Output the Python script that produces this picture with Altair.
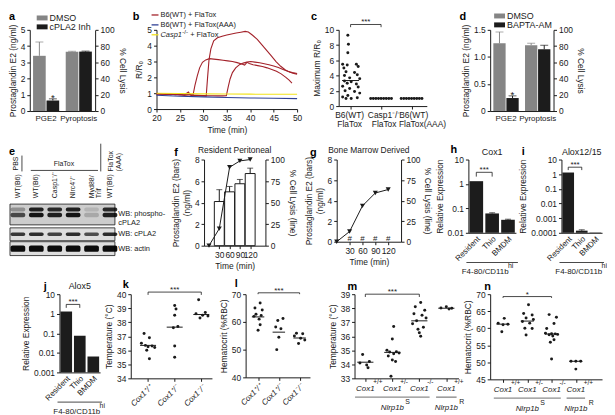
import altair as alt
import pandas as pd

FONT = "Liberation Sans"
INK = "#1a1a1a"
FS = 8.5

# ---------------- data ----------------
# a
a_groups = ["PGE2", "Pyroptosis"]
a_trts = ["DMSO", "cPLA2 Inh"]
a_pge = [3.4, 0.65]
a_pge_err = [0.85, 0.1]
a_lysis = [73.0, 73.2]
a_lysis_err = [0.6, 0.6]
a_sig = ["", "*"]
# d
d_trts = ["DMSO", "BAPTA-AM"]
d_pge = [1.25, 0.24]
d_pge_err = [0.21, 0.04]
d_lysis = [81.0, 76.0]
d_lysis_err = [2.5, 5.0]
d_sig = ["", "*"]
bar_colors = ["#858585", "#1c1c1c"]

# b
b_conds = ["B6(WT) + FlaTox", "B6(WT) + FlaTox(AAA)", "Casp1-/- + FlaTox"]
b_colors = ["#a3222a", "#2e3f95", "#f2e21b"]
b_red1_t = [20, 21, 22, 23, 24, 25, 26, 26.8, 27.4, 27.8, 28.2, 28.7, 29.2, 29.8, 30.5, 31.3, 32.2, 33.2,
            34.2, 35.2, 36.2, 37.2, 38.2, 38.8, 39.3, 39.8, 40.6, 41.6, 42.6, 43.6, 44.6, 45.6, 46.6, 47.6,
            48.3, 48.9]
b_red1_v = [0.97, 0.93, 0.96, 0.91, 0.93, 0.89, 0.9, 1.08, 0.84, 0.9, 1.5, 2.1, 2.6, 2.95, 3.1, 3.18, 3.15,
            3.12, 3.08, 3.04, 3.0, 2.93, 2.84, 2.78, 2.95, 2.88, 2.8, 2.74, 2.68, 2.6, 2.5, 2.38, 2.22, 2.0,
            1.82, 1.64]
b_red2_t = [20, 21, 22, 23, 24, 25, 26, 27, 28, 29, 30, 30.6, 30.9, 31.2, 31.6, 32.2, 33, 34, 35, 36, 37, 38,
            38.9, 39.6, 40.5, 41.5, 42.5, 43.5, 44.5, 45.5, 46.5, 47.5, 48.5, 49.3, 50]
b_red2_v = [0.99, 0.95, 0.93, 0.96, 0.9, 0.93, 0.88, 0.9, 0.86, 0.85, 0.83, 0.82, 2.0, 3.1, 3.8, 4.3, 4.5, 4.6,
            4.67, 4.74, 4.8, 4.85, 4.9, 4.86, 4.66, 4.4, 4.05, 3.7, 3.35, 3.0, 2.7, 2.47, 2.32, 2.25, 2.2]
b_red3_t = [20, 21, 22, 23, 24, 25, 26, 27, 28, 29, 30, 31, 32, 33, 34, 34.9, 35.3, 35.7, 36.2, 36.9, 37.7,
            38.5, 39.3, 40.1, 41, 42, 43, 44, 45, 46, 47, 48, 49, 50]
b_red3_v = [0.94, 0.96, 0.92, 0.94, 0.9, 0.91, 0.88, 0.93, 0.87, 0.86, 0.85, 0.84, 0.84, 0.83, 0.83, 0.84, 1.4,
            1.9, 2.3, 2.6, 2.8, 2.9, 2.96, 3.0, 2.96, 2.92, 2.86, 2.8, 2.72, 2.62, 2.5, 2.38, 2.3, 2.24]
b_blue_t = [20, 25, 30, 35, 40, 45, 50]
b_blue_v = [0.87, 0.81, 0.77, 0.73, 0.7, 0.68, 0.66]
b_yel_t = [20, 25, 30, 35, 40, 45, 50]
b_yel_v = [1.0, 0.98, 0.96, 0.95, 0.94, 0.93, 0.93]

# c
c_lab_x = [0.97, 0.97, 2.1, 2.1, 3.07, 3.36]
c_lab_line = [0, 1, 0, 1, 0, 1]
c_lab_text = ["B6(WT)", "FlaTox", "Casp1⁻/⁻", "FlaTox", "B6(WT)", "FlaTox(AAA)"]
c_v1 = [9.3, 8.1, 7.0, 5.5, 5.5, 5.4, 5.2, 5.0, 4.5, 4.4, 4.1, 4.0, 3.7, 3.6, 3.3, 3.2, 3.0, 2.9, 2.6, 2.5,
        2.3, 2.0, 1.9, 1.7, 1.4, 1.2, 1.1, 1.0, 1.0]
c_o1 = [-0.09, -0.07, -0.09, -0.26, 0.19, -0.11, 0.25, -0.22, -0.15, 0.13, 0.22, -0.2, -0.03, 0.3, -0.2,
        0.02, -0.11, 0.19, -0.26, 0.25, -0.03, -0.18, 0.13, 0.3, -0.09, -0.26, 0.22, 0.02, -0.15]
c_v2 = [1.0] * 9
c_o2 = [-0.34, -0.255, -0.17, -0.085, 0.0, 0.085, 0.17, 0.255, 0.34]
c_v3 = [1.0] * 9
c_o3 = [-0.34, -0.255, -0.17, -0.085, 0.0, 0.085, 0.17, 0.255, 0.34]
c_med = [3.35, 1.0, 1.0]

# e (western blot band intensities per lane)
e_lane_labels = [["WT(B6)"], ["WT(B6)"], ["Casp1⁻/⁻"], ["Nlrc4⁻/⁻"], ["Myd88/", "Trif"], ["WT(B6)"]]
e_phos_up = [0.3, 0.85, 0.8, 0.85, 0.12, 0.8]
e_phos_lo = [0.65, 0.9, 0.85, 0.9, 0.18, 0.85]
e_cpla2 = [0.75, 0.8, 0.7, 0.8, 0.65, 0.8]
e_actin = [0.95, 0.95, 0.95, 0.95, 0.95, 0.95]

# f, g
fg_times = [30, 60, 90, 120]
f_pge = [4.1, 5.0, 5.75, 6.7]
f_pge_err = [1.1, 0.5, 0.4, 0.5]
f_lys_t = [0, 30, 60, 90, 120]
f_lys = [0, 19.8, 91.0, 98.4, 100.0]
g_pge = [0, 0, 0, 0]
g_lys = [0, 12.4, 43.6, 59.3, 63.5]

# h, i, j
cells = ["Resident", "Thio", "BMDM"]
h_vals = [1.3, 0.062, 0.034]
h_errs = [0, 0.004, 0.002]
i_vals = [1.3, 0.00014, 0.000105]
i_errs = [0, 0.00002, 0]
j_vals = [1.3, 0.075, 0.0065]
j_errs = [0, 0, 0]

# k, l
cox3 = "['Cox1⁺/⁺','Cox1⁺/⁻','Cox1⁻/⁻'][datum.value-1]"
k_vals = [[37.2, 36.9, 36.5, 36.35, 36.3, 36.25, 36.2, 36.0, 35.4],
          [39.2, 38.95, 38.5, 37.7, 37.6, 36.3, 35.5],
          [39.6, 38.7, 38.6, 38.5, 38.45, 38.3]]
k_offs = [[-0.15, 0.05, -0.25, -0.1, 0.15, 0.0, 0.25, -0.05, 0.05],
          [0.0, 0.05, 0.0, 0.12, -0.05, 0.0, 0.0],
          [-0.1, 0.15, -0.2, 0.05, 0.25, -0.05]]
k_med = [36.35, 37.65, 38.55]
l_vals = [[66.8, 65.0, 64.3, 62.8, 62.3, 62.0, 61.0, 59.0, 57.0],
          [61.2, 60.5, 58.2, 57.5, 54.5, 50.0],
          [55.9, 55.7, 54.9, 54.1, 53.5, 52.2]]
l_offs = [[0.1, -0.15, 0.2, -0.1, 0.15, -0.2, 0.05, 0.1, 0.0],
          [0.2, -0.05, -0.15, 0.1, 0.0, -0.1],
          [-0.15, 0.15, -0.25, 0.05, 0.25, -0.05]]
l_med = [61.8, 56.3, 54.2]

# m, n
mn_sups = ["+/+", "+/-", "-/-", "+/+"]
m_vals = [[34.7, 34.2, 34.1, 33.95, 33.75],
          [36.7, 35.8, 35.0, 34.9, 34.88, 34.8, 34.75, 34.6, 34.3, 34.2, 33.15],
          [38.4, 38.1, 37.85, 37.6, 37.5, 37.3, 37.1, 36.9, 36.65, 36.5, 36.25, 36.0],
          [38.1, 38.02, 38.0, 37.95]]
m_offs = [[-0.1, 0.15, -0.2, 0.05, 0.1],
          [0.05, 0.0, -0.2, 0.15, -0.1, 0.25, 0.05, -0.15, 0.0, 0.12, -0.05],
          [0.05, -0.15, 0.2, -0.2, 0.1, 0.25, -0.1, -0.25, 0.15, -0.05, 0.0, 0.05],
          [0.0, -0.2, 0.2, 0.1]]
m_med = [34.15, 34.85, 37.1, 38.0]
n_vals = [[62.9, 61.5, 61.2, 61.0, 59.0],
          [66.9, 64.3, 63.9, 63.0, 62.6, 62.0, 61.5, 60.0, 59.9, 58.0],
          [64.0, 63.2, 61.4, 59.9, 58.5, 58.4, 58.35, 58.2, 58.1, 57.7, 56.6, 55.9, 51.0],
          [50.3, 50.3, 50.3, 48.0]]
n_offs = [[0.05, -0.2, 0.2, 0.0, -0.05],
          [0.05, -0.15, 0.2, -0.05, 0.25, -0.2, 0.1, -0.1, 0.2, -0.05],
          [-0.1, 0.2, 0.1, -0.2, -0.25, 0.0, 0.15, 0.25, -0.1, 0.05, 0.1, -0.05, 0.0],
          [-0.2, 0.0, 0.2, 0.0]]
n_med = [61.2, 62.1, 58.3, 50.3]


# ---------------- helpers ----------------
def one(**kw):
    return pd.DataFrame({k: [v] for k, v in kw.items()})


def letter(ch, dx, dy):
    return alt.Chart(one(t=ch)).mark_text(
        font=FONT, fontSize=11, fontWeight="bold", align="left", baseline="top", color="black"
    ).encode(text="t:N", x=alt.value(dx), y=alt.value(dy))


def label(txt, dx, dy, size=FS, align="center", baseline="bottom", style="normal"):
    return alt.Chart(one(t=txt)).mark_text(
        font=FONT, fontSize=size, align=align, baseline=baseline, fontStyle=style, color=INK
    ).encode(text="t:N", x=alt.value(dx), y=alt.value(dy))


def rect_legend(names, colors, x0, ys, size=9):
    out = []
    for n, c, y in zip(names, colors, ys):
        out.append(alt.Chart(one(t=n)).mark_rect(color=c).encode(
            x=alt.value(x0), x2=alt.value(x0 + 11), y=alt.value(y - 2.5), y2=alt.value(y + 2.5)))
        out.append(label(n, x0 + 13, y, size=size, align="left", baseline="middle"))
    return out


def spacer(w, top=None, bottom=None):
    df = one(v=0)
    mk = dict(size=1, color="white", opacity=1)
    ls = [alt.Chart(df).mark_square(**mk).encode(x=alt.value(0), y=alt.value(0))]
    if top is not None:
        ls.append(alt.Chart(df).mark_square(**mk).encode(x=alt.value(0), y=alt.value(-top)))
        ls.append(alt.Chart(df).mark_square(**mk).encode(x=alt.value(0), y=alt.value(bottom)))
    return alt.layer(*ls).properties(width=w, height=1)


# ---------------- panels ----------------
def dual_bar_panel(key, trts, pge, pge_err, sig, lys, lys_err, ymax, yvals, ylab_expr, W, H, legx, legys,
                   let_ch, letxy):
    tf = "trt_" + key
    dl = pd.DataFrame({"grp": ["PGE2"] * 2, tf: trts, "val": pge,
                       "top": [v + e for v, e in zip(pge, pge_err)], "sig": sig})
    dr = pd.DataFrame({"grp": ["Pyroptosis"] * 2, tf: trts, "val": lys,
                       "top": [v + e for v, e in zip(lys, lys_err)]})
    x = alt.X("grp:N", scale=alt.Scale(domain=a_groups, paddingInner=0.2, paddingOuter=0.1),
              axis=alt.Axis(title=None, labelAngle=0, ticks=False, labelPadding=4, labelFontSize=8))
    xo = alt.XOffset(tf + ":N", scale=alt.Scale(domain=trts, paddingInner=0.06))
    col = alt.Color(tf + ":N", scale=alt.Scale(domain=trts, range=bar_colors), legend=None)
    lkw = dict(title="Prostaglandin E2 (ng/ml)", values=yvals, orient="left")
    if ylab_expr:
        lkw["labelExpr"] = ylab_expr
    lax = alt.Axis(**lkw)
    ls = alt.Scale(domain=[0, ymax], nice=False)
    rax = alt.Axis(title="% Cell Lysis", values=[0, 20, 40, 60, 80, 100], orient="right")
    rs = alt.Scale(domain=[0, 100], nice=False)

    def parts(df, scale, axis):
        base = alt.Chart(df)
        yv = alt.Y("val:Q", scale=scale, axis=axis)
        yt = alt.Y("top:Q", scale=scale, axis=axis)
        bars = base.mark_bar().encode(x=x, xOffset=xo, color=col, y=yv)
        err = base.mark_rule(strokeWidth=1).encode(x=x, xOffset=xo, color=col, y=yv, y2="top:Q")
        cap = base.mark_tick(size=8, thickness=1).encode(x=x, xOffset=xo, color=col, y=yt)
        return [bars, err, cap]

    star = alt.Chart(dl).mark_text(font=FONT, fontSize=10, baseline="bottom", dy=4, color=INK).encode(
        x=x, xOffset=xo, y=alt.Y("top:Q", scale=ls, axis=lax), text="sig:N")
    left = alt.layer(*parts(dl, ls, lax), star)
    right = alt.layer(*parts(dr, rs, rax))
    extras = rect_legend(trts, bar_colors, legx, legys) + [letter(let_ch, *letxy)]
    return alt.layer(left, right, *extras).resolve_scale(y="independent").properties(width=W, height=H)


def panel_b():
    rows = []
    traces = [("r1", b_conds[0], b_red1_t, b_red1_v), ("r2", b_conds[0], b_red2_t, b_red2_v),
              ("r3", b_conds[0], b_red3_t, b_red3_v), ("bl", b_conds[1], b_blue_t, b_blue_v),
              ("ye", b_conds[2], b_yel_t, b_yel_v)]
    for tid, cond, ts, vs in traces:
        for i, (t, v) in enumerate(zip(ts, vs)):
            rows.append({"trace": tid, "cond_b": cond, "t": t, "v": v, "i": i})
    df = pd.DataFrame(rows)
    line = alt.Chart(df).mark_line(strokeWidth=1.1).encode(
        x=alt.X("t:Q", scale=alt.Scale(domain=[20, 50], nice=False, zero=False),
                axis=alt.Axis(values=[20, 25, 30, 35, 40, 45, 50], title="Time (min)")),
        y=alt.Y("v:Q", scale=alt.Scale(domain=[0, 5], nice=False),
                axis=alt.Axis(values=[0, 1, 2, 3, 4, 5], title="R/R₀")),
        color=alt.Color("cond_b:N", scale=alt.Scale(domain=b_conds, range=b_colors), legend=None),
        detail="trace:N", order="i:Q")
    leg = []
    ys = [-15, -5, 5]
    for c, y in zip(b_colors, ys):
        leg.append(alt.Chart(one(v=0)).mark_rule(color=c, strokeWidth=1.3).encode(
            x=alt.value(-5), x2=alt.value(2), y=alt.value(y)))
    leg.append(label("B6(WT) + FlaTox", 4, ys[0], size=7.5, align="left", baseline="middle"))
    leg.append(label("B6(WT) + FlaTox(AAA)", 4, ys[1], size=7.5, align="left", baseline="middle"))
    leg.append(label("Casp1", 4, ys[2], size=7.5, align="left", baseline="middle", style="italic"))
    leg.append(label("-/-", 26, ys[2] - 3, size=6, align="left", baseline="middle"))
    leg.append(label("+ FlaTox", 34, ys[2], size=7.5, align="left", baseline="middle"))
    return alt.layer(line, *leg, letter("b", -24, -19)).properties(width=142, height=80)


def strip_panel(vals_list, offs_list, medians, xdom, ydom, yvals, ytitle, W, H, half, brk, xaxis,
                let_ch, letxy, group_labels=False, cat_labels=None):
    rows = []
    for ci, (vals, offs) in enumerate(zip(vals_list, offs_list)):
        for v, o in zip(vals, offs):
            rows.append({"x": ci + 1 + o, "y": v})
    df = pd.DataFrame(rows)
    cats = list(range(1, len(vals_list) + 1))
    dm = pd.DataFrame({"x1": [c - half for c in cats], "x2": [c + half for c in cats], "y": medians})
    xs = alt.Scale(domain=xdom, nice=False, zero=False)
    ys = alt.Scale(domain=ydom, nice=False, zero=False)
    yax = alt.Axis(values=yvals, title=ytitle)

    def X(f):
        return alt.X(f + ":Q", scale=xs, axis=xaxis)

    def Y(f):
        return alt.Y(f + ":Q", scale=ys, axis=yax)

    pts = alt.Chart(df).mark_circle(size=9, color=INK, opacity=1).encode(x=X("x"), y=Y("y"))
    med = alt.Chart(dm).mark_rule(color=INK, strokeWidth=1).encode(x=X("x1"), x2="x2:Q", y=Y("y"))
    c1, c2, top, low, txt = brk
    db = pd.DataFrame({"x": [c1, c1, c2, c2], "y": [low, top, top, low], "i": [0, 1, 2, 3]})
    br = alt.Chart(db).mark_line(color=INK, strokeWidth=0.8).encode(x=X("x"), y=Y("y"), order="i:Q")
    st = alt.Chart(one(x=(c1 + c2) / 2, y=top, t=txt)).mark_text(
        font=FONT, fontSize=8, baseline="bottom", dy=2, color=INK).encode(x=X("x"), y=Y("y"), text="t:N")
    layers = [pts, med, br, st, letter(let_ch, *letxy)]
    if cat_labels:
        lx, ll, lt = cat_labels
        dc = pd.DataFrame({"x": lx, "t": lt, "yy": [H + 5 + 9 * v for v in ll]})
        layers.append(alt.Chart(dc).mark_text(font=FONT, fontSize=FS, baseline="top", color=INK).encode(
            x=X("x"), y=alt.Y("yy:Q", scale=None), text="t:N"))
    if group_labels:
        dc = pd.DataFrame({"x": cats, "s": mn_sups})
        layers.append(alt.Chart(dc).mark_text(font=FONT, fontSize=8, fontStyle="italic", baseline="top",
                                              color=INK).encode(x=X("x"), y=alt.value(H + 7), text=alt.value("Cox1")))
        layers.append(alt.Chart(dc).mark_text(font=FONT, fontSize=6.5, align="left", baseline="top", dx=8,
                                              color=INK).encode(x=X("x"), y=alt.value(H + 0.5), text="s:N"))
        dg = pd.DataFrame({"x1": [0.62, 3.62], "x2": [3.38, 4.38], "xc": [2.0, 4.0], "s": ["S", "R"]})
        layers.append(alt.Chart(dg).mark_rule(color="#8c8c8c", strokeWidth=1.4).encode(
            x=X("x1"), x2="x2:Q", y=alt.value(H + 19)))
        layers.append(alt.Chart(dg).mark_text(font=FONT, fontSize=8, fontStyle="italic", baseline="top",
                                              color=INK).encode(x=X("xc"), y=alt.value(H + 26), text=alt.value("Nlrp1b")))
        layers.append(alt.Chart(dg).mark_text(font=FONT, fontSize=7, align="left", baseline="top", dx=13,
                                              color=INK).encode(x=X("xc"), y=alt.value(H + 20), text="s:N"))
    return alt.layer(*layers).properties(width=W, height=H)


def panel_e():
    W, H = 106, 96
    EF = 7
    xs = alt.Scale(domain=[0.57, 6.27], nice=False, zero=False)
    ys = alt.Scale(domain=[0, 96], nice=False, zero=False, reverse=True)

    def X(f):
        return alt.X(f + ":Q", scale=xs, axis=None)

    def Y(f):
        return alt.Y(f + ":Q", scale=ys, axis=None)

    boxes = pd.DataFrame({"y1": [45, 69, 83], "y2": [66, 82, 97], "f": ["#cdcdcd", "#dedede", "#dedede"]})
    box = alt.Chart(boxes).mark_rect(stroke=INK, strokeWidth=0.8).encode(
        x=alt.value(0), x2=alt.value(W), y=Y("y1"), y2="y2:Q",
        fill=alt.Fill("f:N", scale=None))
    rows = []
    for li in range(6):
        lane = li + 1
        for yc, th, it in [(50.5, 4.0, e_phos_up[li]), (56.0, 4.5, e_phos_lo[li]),
                           (75.5, 3.5, e_cpla2[li]), (90.0, 6.5, e_actin[li])]:
            rows.append({"x1": lane - 0.4, "x2": lane + 0.4, "y1": yc - th / 2, "y2": yc + th / 2, "o": it})
    bands = alt.Chart(pd.DataFrame(rows)).mark_rect(color="black", cornerRadius=2).encode(
        x=X("x1"), x2="x2:Q", y=Y("y1"), y2="y2:Q", opacity=alt.Opacity("o:Q", scale=None))
    dl = pd.DataFrame({"x": [1, 2, 3, 4, 5, 6], "y": [39] * 6, "t": e_lane_labels})
    lanes = alt.Chart(dl).mark_text(font=FONT, fontSize=EF, angle=270, align="left", baseline="middle",
                                    lineHeight=8, color=INK).encode(x=X("x"), y=Y("y"), text="t:N")
    dg = pd.DataFrame({"x": [0.9, 6.05], "y": [11, 12], "t": [["PBS"], ["FlaTox", "(AAA)"]]})
    grp_rot = alt.Chart(dg).mark_text(font=FONT, fontSize=EF, angle=270, align="left", baseline="middle",
                                      lineHeight=8, color=INK).encode(x=X("x"), y=Y("y"), text="t:N")
    flat = alt.Chart(one(x=3.5, y=8, t="FlaTox")).mark_text(font=FONT, fontSize=EF, baseline="bottom",
                                                           color=INK).encode(x=X("x"), y=Y("y"), text="t:N")
    dlines = pd.DataFrame({"x1": [1.7], "x2": [5.35], "y": [11]})
    hline = alt.Chart(dlines).mark_rule(color=INK, strokeWidth=0.8).encode(x=X("x1"), x2="x2:Q", y=Y("y"))
    dv = pd.DataFrame({"x": [1.22, 5.5], "y1": [-4, -16], "y2": [12, 12]})
    vline = alt.Chart(dv).mark_rule(color=INK, strokeWidth=0.8).encode(x=X("x"), y=Y("y1"), y2="y2:Q")
    dw = pd.DataFrame({"x": [6.45] * 3, "y": [55, 75.5, 90],
                       "t": [["WB: phospho-", "cPLA2"], ["WB: cPLA2"], ["WB: actin"]]})
    wb = alt.Chart(dw).mark_text(font=FONT, fontSize=7.5, align="left", baseline="middle", lineHeight=9,
                                 color=INK).encode(x=X("x"), y=Y("y"), text="t:N")
    return alt.layer(box, bands, lanes, grp_rot, flat, hline, vline, wb, letter("e", -1, -14)).properties(
        width=W, height=H)


def time_panel(pge, pge_err, lys, W, H, title, hashes, let_ch, letxy):
    xs = alt.Scale(domain=[0, 150], nice=False)
    xax = alt.Axis(values=[30, 60, 90, 120], title="Time (min)")
    x = alt.X("t:Q", scale=xs, axis=xax)
    ls = alt.Scale(domain=[0, 8], nice=False)
    lax = alt.Axis(values=[0, 2, 4, 6, 8], title=["Prostaglandin E2 (bars)", "(ng/ml)"], orient="left",
                   titleLineHeight=11)
    rs = alt.Scale(domain=[0, 100], nice=False)
    rax = alt.Axis(values=[0, 25, 50, 75, 100], title="% Cell Lysis (line)", orient="right")
    db = pd.DataFrame({"t": fg_times, "pge": pge, "top": [v + e for v, e in zip(pge, pge_err)],
                       "h": ["#" if hashes else ""] * 4})
    base = alt.Chart(db)
    if hashes:
        left = base.mark_text(font=FONT, fontSize=8, baseline="bottom", dy=1, color=INK).encode(
            x=x, y=alt.Y("pge:Q", scale=ls, axis=lax), text="h:N")
    else:
        bars = base.mark_bar(size=10, fill="white", stroke=INK, strokeWidth=1).encode(
            x=x, y=alt.Y("pge:Q", scale=ls, axis=lax))
        err = base.mark_rule(color=INK, strokeWidth=1).encode(
            x=x, y=alt.Y("pge:Q", scale=ls, axis=lax), y2="top:Q")
        cap = base.mark_tick(size=6, thickness=1, color=INK, orient="horizontal").encode(
            x=x, y=alt.Y("top:Q", scale=ls, axis=lax))
        left = alt.layer(bars, err, cap)
    dl = pd.DataFrame({"t": f_lys_t, "lys": lys})
    yr = alt.Y("lys:Q", scale=rs, axis=rax)
    line = alt.Chart(dl).mark_line(color=INK, strokeWidth=1).encode(x=x, y=yr)
    pts = alt.Chart(dl).mark_point(shape="triangle-down", filled=True, size=26, color=INK, opacity=1).encode(
        x=x, y=yr)
    right = alt.layer(line, pts)
    return alt.layer(left, right, letter(let_ch, *letxy), label(title, W / 2, -5, size=8.5)).resolve_scale(
        y="independent").properties(width=W, height=H)


def log_panel(title, vals, errs, dom, ticks, W, H, let_ch, letxy, brk_top, brk_low, fdx):
    df = pd.DataFrame({"cell": cells, "val": vals, "top": [v + e for v, e in zip(vals, errs)], "e": errs})
    x = alt.X("cell:N", scale=alt.Scale(domain=cells, paddingInner=0.14, paddingOuter=0.07),
              axis=alt.Axis(title=None, labelAngle=315, ticks=False, labelFontSize=8, labelPadding=2))
    ys = alt.Scale(type="log", domain=dom, nice=False)
    yax = alt.Axis(values=ticks, format="~g", title="Relative Expression")
    bars = alt.Chart(df).mark_bar(color="#1c1c1c").encode(
        x=x, y=alt.Y("val:Q", scale=ys, axis=yax), y2=alt.datum(dom[0]))
    de = df[df["e"] > 0]
    err = alt.Chart(de).mark_rule(color=INK).encode(x=x, y=alt.Y("val:Q", scale=ys, axis=yax), y2="top:Q")
    cap = alt.Chart(de).mark_tick(size=6, thickness=1, color=INK).encode(
        x=x, y=alt.Y("top:Q", scale=ys, axis=yax))
    db = pd.DataFrame({"cell": ["Resident", "Resident", "Thio", "Thio"],
                       "y": [brk_low, brk_top, brk_top, brk_low], "i": [0, 1, 2, 3]})
    br = alt.Chart(db).mark_line(color=INK, strokeWidth=0.8).encode(
        x=x, y=alt.Y("y:Q", scale=ys, axis=yax), order="i:Q")
    step = W / (3 - 0.14 + 2 * 0.07)
    st = alt.Chart(one(cell="Resident", y=brk_top, t="***")).mark_text(
        font=FONT, fontSize=8, baseline="bottom", dy=2, dx=step / 2, color=INK).encode(
        x=x, y=alt.Y("y:Q", scale=ys, axis=yax), text="t:N")
    under = alt.Chart(one(v=0)).mark_rule(color=INK, strokeWidth=0.8).encode(
        x=alt.value(-2), x2=alt.value(W + 2), y=alt.value(H + 30))
    return alt.layer(bars, err, cap, br, st, under,
                     label("F4-80/CD11b", W / 2 + fdx, H + 36, size=8, baseline="top"),
                     label("hi", W / 2 + fdx + 23, H + 30, size=7, align="left", baseline="top"),
                     label(title, W / 2, -3, size=9),
                     letter(let_ch, *letxy)).properties(width=W, height=H)


# ---------------- build rows ----------------
pa = dual_bar_panel("a", a_trts, a_pge, a_pge_err, a_sig, a_lysis, a_lysis_err, 5, [0, 1, 2, 3, 4, 5], None,
                    66, 82, 7, [-12, -3], "a", (-21, -19))
pb = panel_b()
pc = strip_panel([c_v1, c_v2, c_v3], [c_o1, c_o2, c_o3], c_med, [0.61, 3.5], [0, 10], [0, 2, 4, 6, 8, 10],
                 "Maximum R/R₀", 89, 77, 0.28, (1, 2, 10.7, 10.35, "***"),
                 alt.Axis(values=[1, 2, 3], labels=False, title=None),
                 "c", (-28, -19), cat_labels=(c_lab_x, c_lab_line, c_lab_text))
pd_ = dual_bar_panel("d", d_trts, d_pge, d_pge_err, d_sig, d_lysis, d_lysis_err, 1.5, [0, 0.5, 1.0, 1.5],
                     "datum.value == 0 ? '0' : format(datum.value, '.1f')", 64, 82, 4, [-14, -5], "d",
                     (-31, -19))

pe = panel_e()
pf = time_panel(f_pge, f_pge_err, f_lys, 62, 87, "Resident Peritoneal", False, "f", (-30, -13))
pg = time_panel(g_pge, [0, 0, 0, 0], g_lys, 65, 83, "Bone Marrow Derived", True, "g", (-27, -13))
ph = log_panel("Cox1", h_vals, h_errs, [0.01, 10], [0.01, 0.1, 1, 10], 48, 74, "h", (-18, -16), 3.0, 2.0, -7)
pi = log_panel("Alox12/15", i_vals, i_errs, [0.0001, 10], [0.0001, 0.001, 0.01, 0.1, 1, 10], 41, 74, "i",
               (-40, -14), 3.0, 1.9, -3)

pj = log_panel("Alox5", j_vals, j_errs, [0.001, 10], [0.001, 0.01, 0.1, 1, 10], 41, 79, "j", (-16, -13), 3.0,
               2.0, -3)
rot_ax = alt.Axis(values=[1, 2, 3], labelExpr=cox3, labelAngle=315, labelFontStyle="italic", labelFontSize=8,
                  title=None)
pk = strip_panel(k_vals, k_offs, k_med, [0.35, 3.4], [34, 40], [34, 35, 36, 37, 38, 39, 40], "Temperature (°C)",
                 82, 85, 0.3, (1, 3, 40.15, 39.95, "***"), rot_ax, "k", (-8, -15))
pl = strip_panel(l_vals, l_offs, l_med, [0.4, 3.5], [40, 70], [40, 50, 60, 70], "Hematocrit (%RBC)",
                 65, 84, 0.3, (1, 3, 70.5, 70.0, "***"), rot_ax, "l", (-11, -16))
grp_ax = alt.Axis(values=[1, 2, 3, 4], labels=False, title=None)
pm = strip_panel(m_vals, m_offs, m_med, [0.6, 4.45], [33, 39], [33, 34, 35, 36, 37, 38, 39], "Temperature (°C)",
                 105, 85, 0.3, (1, 3, 39.0, 38.8, "***"), grp_ax, "m", (-7, -13), group_labels=True)
pn = strip_panel(n_vals, n_offs, n_med, [0.47, 5.08], [45, 70], [45, 50, 55, 60, 65, 70], "Hematocrit (%RBC)",
                 113, 86, 0.27, (1, 3, 69.3, 68.9, "*"), grp_ax, "n", (-6, -13), group_labels=True)

RES = dict(x="independent", y="independent", color="independent", xOffset="independent",
           opacity="independent", fill="independent")

row1 = alt.hconcat(spacer(21, 19, 112), pa, spacer(62), pb, spacer(42), pc, spacer(64), pd_,
                   spacing=0, bounds="flush").resolve_scale(**RES)
row2 = alt.hconcat(spacer(1, 17, 119), pe, spacer(90), pf, spacer(72), pg, spacer(68), ph, spacer(46), pi,
                   spacing=0, bounds="flush").resolve_scale(**RES)
row3 = alt.hconcat(spacer(51, 15, 122), pj, spacer(31), pk, spacer(34), pl, spacer(45), pm, spacer(32), pn,
                   spacing=0, bounds="flush").resolve_scale(**RES)

chart = alt.vconcat(row1, row2, row3, spacing=0).resolve_scale(**RES).properties(padding=0).configure(
    font=FONT
).configure_view(stroke=None).configure_axis(
    labelFont=FONT, titleFont=FONT, labelFontSize=FS, titleFontSize=FS, titleFontWeight="normal",
    labelColor=INK, titleColor=INK, domainColor=INK, tickColor=INK, tickSize=3, grid=False,
    labelPadding=2, titlePadding=3, labelFlush=False, labelOverlap=False, domainWidth=1, tickWidth=1
)

chart.save("out.html", embed_options={"renderer": "svg", "actions": False})
